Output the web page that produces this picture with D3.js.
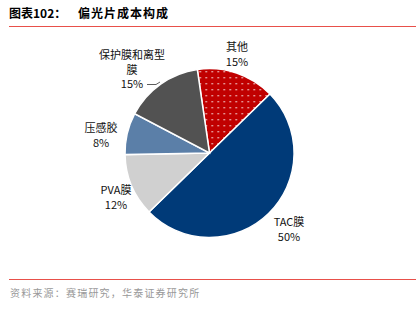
<!DOCTYPE html>
<html>
<head>
<meta charset="utf-8">
<script src="https://cdn.jsdelivr.net/npm/d3@7"></script>
<style>
body{margin:0;background:#fff}
text{font-family:"Noto Sans CJK SC","Liberation Sans",sans-serif}
</style>
</head>
<body>
<svg width="416" height="310"></svg>
<script>
// data
var names = ["其他","TAC膜","PVA膜","压感胶","保护膜和离型膜"]
var shares = [15,50,12,8,15]
var colors = ["#c00000","#003a78","#d0d0d0","#5b7fa8","#525252"]
// label lines (text split as in the chart) and label anchors
var labelLines = [["其他","15%"],["TAC膜","50%"],["PVA膜","12%"],["压感胶","8%"],["保护膜和离型","膜","15%"]]
var labelPos = [[237,47],[289,222],[116,190],[101,128],[132,55]]

var svg = d3.select("svg")
var cx = 209.5, cy = 153, r = 84.5

// title + red rule
svg.append("text").attr("x",9).attr("y",18)
  .attr("font-size",12).attr("font-weight","bold").attr("fill","#000")
  .text("图表102：")
svg.append("text").attr("x",78).attr("y",18).attr("letter-spacing",1)
  .attr("font-size",12).attr("font-weight","bold").attr("fill","#000")
  .text("偏光片成本构成")
svg.append("line").attr("x1",9).attr("x2",416).attr("y1",26.5).attr("y2",26.5)
  .attr("stroke","#e8504a").attr("stroke-width",1)

// dotted pattern for the red slice
var defs = svg.append("defs")
var pat = defs.append("pattern").attr("id","dots").attr("patternUnits","userSpaceOnUse")
  .attr("width",6).attr("height",6)
pat.append("rect").attr("width",6).attr("height",6).attr("fill",colors[0])
pat.append("rect").attr("x",2).attr("y",2).attr("width",1.4).attr("height",1.4).attr("fill","#f3d0d0")

var pie = d3.pie().sort(null).value(function(d){return d})
  .startAngle(-8.3*Math.PI/180).endAngle(2*Math.PI-8.3*Math.PI/180)
var arc = d3.arc().innerRadius(0).outerRadius(r)

var g = svg.append("g").attr("transform","translate("+cx+","+cy+")")
g.selectAll("path").data(pie(shares)).enter().append("path")
  .attr("d",arc)
  .attr("fill",function(d,i){return i==0 ? "url(#dots)" : colors[i]})
  .attr("stroke","#fff").attr("stroke-width",1.5)

// leader line for 保护膜和离型膜
svg.append("polyline").attr("points","147,84.5 156,84.5 160,82")
  .attr("fill","none").attr("stroke","#333").attr("stroke-width",0.8)

// labels
labelLines.forEach(function(lines,i){
  var t = svg.append("text").attr("text-anchor","middle").attr("font-size",11).attr("fill","#111")
  lines.forEach(function(s,j){
    t.append("tspan").attr("x",labelPos[i][0]).attr("y",labelPos[i][1]+4+j*14.5).text(s)
  })
})

// bottom rule + source
svg.append("line").attr("x1",9).attr("x2",416).attr("y1",279.5).attr("y2",279.5)
  .attr("stroke","#e8504a").attr("stroke-width",1)
svg.append("text").attr("x",10).attr("y",297).attr("font-size",10).attr("letter-spacing",1.2).attr("fill","#999")
  .text("资料来源：赛瑞研究，华泰证券研究所")
</script>
</body>
</html>
